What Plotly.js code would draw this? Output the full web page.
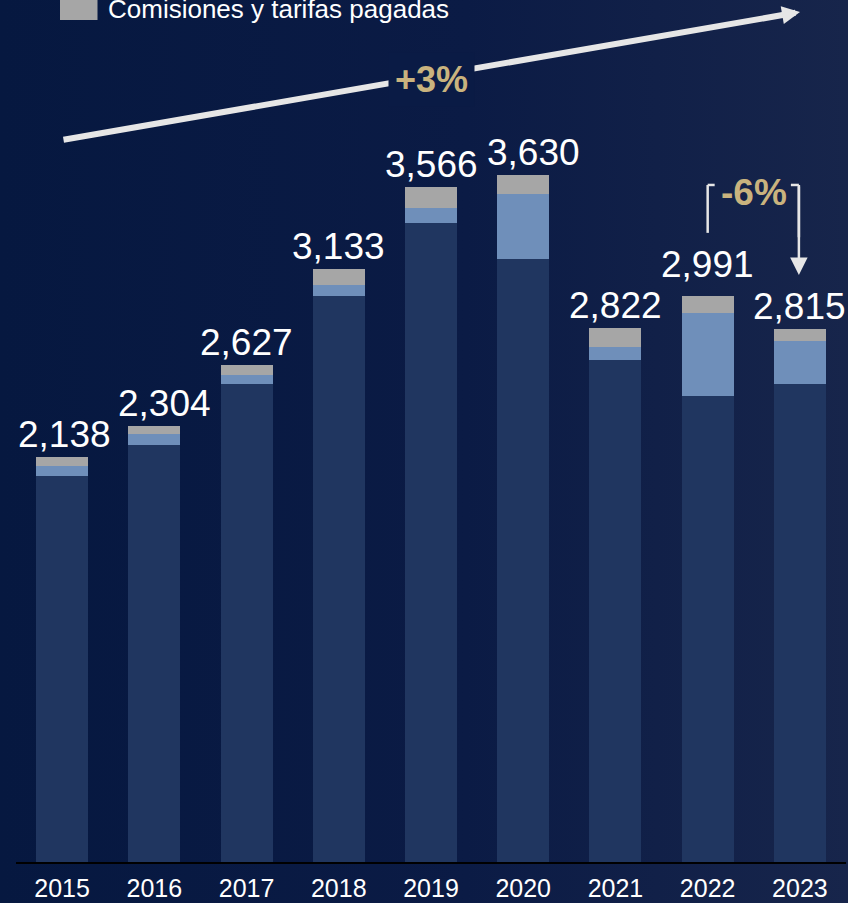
<!DOCTYPE html>
<html><head><meta charset="utf-8">
<script src="https://cdn.plot.ly/plotly-3.0.1.min.js"></script>
<style>
html,body{margin:0;padding:0;}
body{width:848px;height:903px;overflow:hidden;background:linear-gradient(90deg,#061840 0%,#0b1b45 55%,#17254b 100%);}
#chart{width:848px;height:903px;}
</style></head><body><div id="chart"></div>
<script>
// ---- data ----
const years = ['2015','2016','2017','2018','2019','2020','2021','2022','2023'];
const baseValues = [2041, 2204, 2526, 2991, 3376, 3184, 2653, 2461, 2525];
const midValues  = [53, 58, 48, 58, 81, 346, 65, 437, 227];
const feeValues  = [44, 42, 53, 84, 109, 100, 104, 93, 63];
const totalLabels = [2138, 2304, 2627, 3133, 3566, 3630, 2822, 2991, 2815];
const legendLabel = 'Comisiones y tarifas pagadas';
const growthLabel = '+3%';
const changeLabel = '-6%';

// ---- style ----
const FONT = 'Arial, "Liberation Sans", sans-serif';
const W = 848, H = 903;
const M = {l: 16, r: 2, t: 0, b: 41};
const plotW = W - M.l - M.r, plotH = H - M.t - M.b;
const yMax = 4553;
const px2x = px => (px - M.l) / plotW;
const py2y = py => (H - M.b - py) / plotH;

const colors = {base: '#203660', mid: '#6f8fba', fee: '#a6a6a6', gold: '#c9b37e', arrow: '#e6e6e6'};

const mk = (vals, color, name) => ({
  type: 'bar', x: years, y: vals, name: name,
  marker: {color: color, line: {width: 0}},
  hoverinfo: 'skip', showlegend: false
});
const traces = [
  mk(baseValues, colors.base, 'Base'),
  mk(midValues, colors.mid, 'Intermedio'),
  mk(feeValues, colors.fee, legendLabel)
];

const labelNudge = {'2016': [10, 0], '2020': [10, 0], '2022': [0, 9], '2015': [2, 0]};
const annotations = [];
years.forEach((yr, i) => {
  const n = labelNudge[yr] || [0, 0];
  annotations.push({
    x: i, y: totalLabels[i], xref: 'x', yref: 'y',
    text: totalLabels[i].toLocaleString('en-US'),
    showarrow: false, yanchor: 'bottom', xanchor: 'center',
    xshift: n[0], yshift: n[1],
    font: {family: FONT, size: 37, color: '#ffffff'}
  });
});

// growth arrow
annotations.push({
  xref: 'paper', yref: 'paper', x: px2x(800), y: py2y(12),
  ax: 62 - 800, ay: 140 - 12, text: '', showarrow: true,
  arrowhead: 2, arrowsize: 0.6, arrowwidth: 6, arrowcolor: colors.arrow, standoff: 0
});
annotations.push({
  xref: 'paper', yref: 'paper', x: px2x(431), y: py2y(79),
  text: '<b>' + growthLabel + '</b>', showarrow: false,
  xanchor: 'center', yanchor: 'middle',
  bgcolor: '#0a1b45', borderpad: 6,
  font: {family: FONT, size: 36, color: colors.gold}
});

// -6% bracket
annotations.push({
  xref: 'x', yref: 'y', x: 8 - 1/92.25, y: 3101,
  ax: 0, ay: -90, text: '', showarrow: true,
  arrowhead: 2, arrowsize: 1.4, arrowwidth: 2.5, arrowcolor: colors.arrow, standoff: 0
});
annotations.push({
  xref: 'x', yref: 'y', x: 7.5, y: 3535,
  text: '<b>' + changeLabel + '</b>', showarrow: false,
  xanchor: 'center', yanchor: 'middle',
  font: {family: FONT, size: 37, color: colors.gold}
});

// legend (cut off at the top as in the original)
annotations.push({
  xref: 'paper', yref: 'paper', x: px2x(106), y: py2y(9),
  text: legendLabel, showarrow: false, xanchor: 'left', yanchor: 'middle',
  font: {family: FONT, size: 26, color: '#ffffff'}
});

const lineStyle = {color: colors.arrow, width: 2.5};
const shapes = [
  {type: 'rect', xref: 'paper', yref: 'paper', x0: px2x(60), x1: px2x(97.5), y0: py2y(20), y1: py2y(-5),
   fillcolor: colors.fee, line: {width: 0}},
  {type: 'line', xref: 'x', yref: 'y', x0: 7, x1: 7, y0: 3323, y1: 3576, line: lineStyle},
  {type: 'line', xref: 'x', yref: 'y', x0: 7, x1: 7 + 7/92.25, y0: 3576, y1: 3576, line: lineStyle},
  {type: 'line', xref: 'x', yref: 'y', x0: 8 - 1/92.25, x1: 8 - 1/92.25, y0: 3576, y1: 3300, line: lineStyle},
  {type: 'line', xref: 'x', yref: 'y', x0: 8 - 9/92.25, x1: 8 - 1/92.25, y0: 3576, y1: 3576, line: lineStyle}
];

const layout = {
  width: W, height: H, margin: M,
  paper_bgcolor: 'rgba(0,0,0,0)', plot_bgcolor: 'rgba(0,0,0,0)',
  barmode: 'stack', bargap: 0.436,
  showlegend: false,
  xaxis: {
    type: 'category', range: [-0.5, 8.5], showline: true, linecolor: '#000000', linewidth: 2,
    ticks: '', showgrid: false, zeroline: false, fixedrange: true, ticklabelstandoff: 3,
    tickfont: {family: FONT, size: 25, color: '#ffffff'}
  },
  yaxis: {range: [0, yMax], visible: false, showgrid: false, zeroline: false, fixedrange: true},
  annotations: annotations, shapes: shapes
};

Plotly.newPlot('chart', traces, layout, {displayModeBar: false, staticPlot: true});
</script></body></html>
